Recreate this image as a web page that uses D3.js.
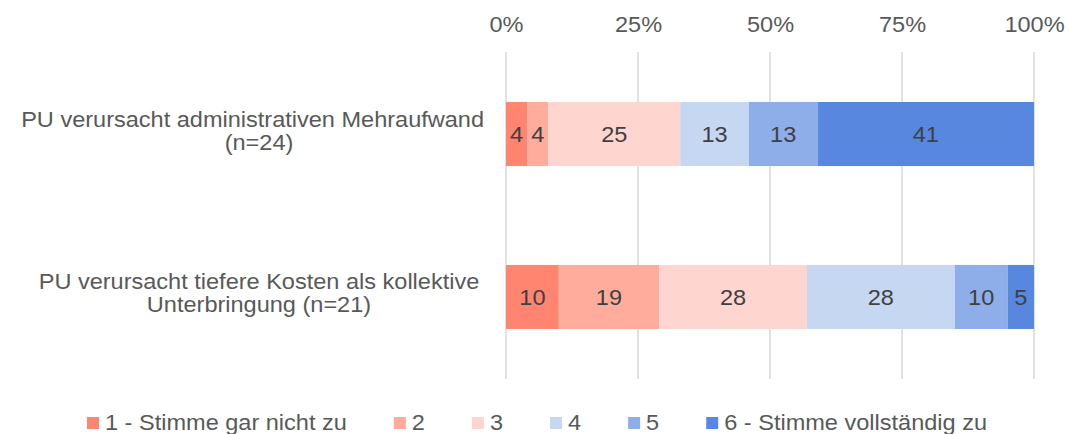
<!DOCTYPE html>
<html>
<head>
<meta charset="utf-8">
<script src="https://cdn.jsdelivr.net/npm/d3@7"></script>
<style>
  html, body { margin: 0; padding: 0; background: #ffffff; }
  svg { display: block; font-family: "Liberation Sans", Arial, sans-serif; }
</style>
</head>
<body>
<svg id="chart" width="1071" height="434"></svg>
<script>
// ---- Data ----
const categories = ["PU verursacht administrativen Mehraufwand (n=24)", "PU verursacht tiefere Kosten als kollektive Unterbringung (n=21)"];
const categoryLines = [
  ["PU verursacht administrativen Mehraufwand", "(n=24)"],
  ["PU verursacht tiefere Kosten als kollektive", "Unterbringung (n=21)"]
];
const seriesNames = ["1 - Stimme gar nicht zu", "2", "3", "4", "5", "6 - Stimme vollständig zu"];
const seriesColors = ["#FF8570", "#FFAC9C", "#FFD5D0", "#C6D7F2", "#8DAEE9", "#5787DF"];
const s1 = [4, 10];
const s2 = [4, 19];
const s3 = [25, 28];
const s4 = [13, 28];
const s5 = [13, 10];
const s6 = [41, 5];
const seriesValues = [s1, s2, s3, s4, s5, s6];
const tickValues = [0, 25, 50, 75, 100];

// ---- Layout ----
const svg = d3.select("#chart");
const x = d3.scaleLinear().domain([0, 100]).range([506, 1034]);
const y = d3.scaleBand().domain(categories).range([52, 379]).paddingInner(0.607).paddingOuter(0.307);

const FS = 22;
const SX = 1.07;               // horizontal stretch of the reference text
const textGrey = "#595959";

// gridlines
svg.append("g").selectAll("line").data(tickValues).join("line")
  .attr("x1", d => x(d)).attr("x2", d => x(d))
  .attr("y1", 52).attr("y2", 379)
  .attr("stroke", "#d9d9d9").attr("stroke-width", 1.5);

// top axis labels
const axis = d3.axisTop(x).tickValues(tickValues).tickFormat(d => d + "%").tickSize(0).tickPadding(0);
const ag = svg.append("g").attr("transform", "translate(0,32)").call(axis);
ag.select(".domain").remove();
ag.selectAll("text").attr("font-size", FS).attr("fill", textGrey)
  .attr("transform", `scale(${SX},1)`)
  .attr("font-family", "'Liberation Sans', Arial, sans-serif").attr("dy", 0);

// stacked bars
const stackData = categories.map((c, i) => {
  const o = { cat: c };
  seriesNames.forEach((s, j) => o[s] = seriesValues[j][i]);
  return o;
});
const stacked = d3.stack().keys(seriesNames)(stackData);

const layers = svg.append("g").selectAll("g").data(stacked).join("g")
  .attr("fill", (d, i) => seriesColors[i]);
layers.selectAll("rect").data(d => d).join("rect")
  .attr("x", d => x(d[0]))
  .attr("width", d => x(d[1]) - x(d[0]))
  .attr("y", d => y(d.data.cat))
  .attr("height", y.bandwidth());

// data labels
const lbl = svg.append("g");
stacked.forEach(layer => {
  layer.forEach(d => {
    const v = d[1] - d[0];
    lbl.append("text")
      .attr("transform", `scale(${SX},1)`)
      .attr("x", (x(d[0]) + x(d[1])) / 2 / SX)
      .attr("y", y(d.data.cat) + y.bandwidth() / 2)
      .attr("dy", "0.36em")
      .attr("text-anchor", "middle")
      .attr("font-size", FS)
      .attr("fill", "#404040")
      .text(v);
  });
});

// category labels (one text element per category, a tspan per line)
const catG = svg.append("g");
categories.forEach((c, i) => {
  const cy = y(c) + y.bandwidth() / 2;
  const lines = categoryLines[i];
  const lh = 23;
  const t = catG.append("text")
    .attr("transform", `scale(${SX},1)`)
    .attr("text-anchor", "middle")
    .attr("font-size", FS)
    .attr("fill", textGrey);
  lines.forEach((ln, k) => {
    const ts = t.append("tspan")
      .attr("y", cy + (k - (lines.length - 1) / 2) * lh + 4)
      .text(ln);
    const w = ts.node().getComputedTextLength() * SX;
    ts.attr("x", Math.min(259, 484 - w / 2) / SX);
  });
});

// legend
const leg = svg.append("g");
const items = [];
const mark = 12, gapTxt = 6, gapItem = 47;
seriesNames.forEach((s, i) => {
  const g = leg.append("g");
  g.append("rect").attr("x", 0).attr("y", -5).attr("width", mark).attr("height", mark).attr("fill", seriesColors[i]);
  const t = g.append("text")
    .attr("transform", `translate(${mark + gapTxt},8) scale(${SX},1)`)
    .attr("font-size", FS).attr("fill", textGrey).text(s);
  const w = mark + gapTxt + t.node().getComputedTextLength() * SX;
  items.push({ g, w });
});
const total = d3.sum(items, d => d.w) + gapItem * (items.length - 1);
let start = 537 - total / 2;
items.forEach(it => {
  it.g.attr("transform", `translate(${start},422)`);
  start += it.w + gapItem;
});
</script>
</body>
</html>
